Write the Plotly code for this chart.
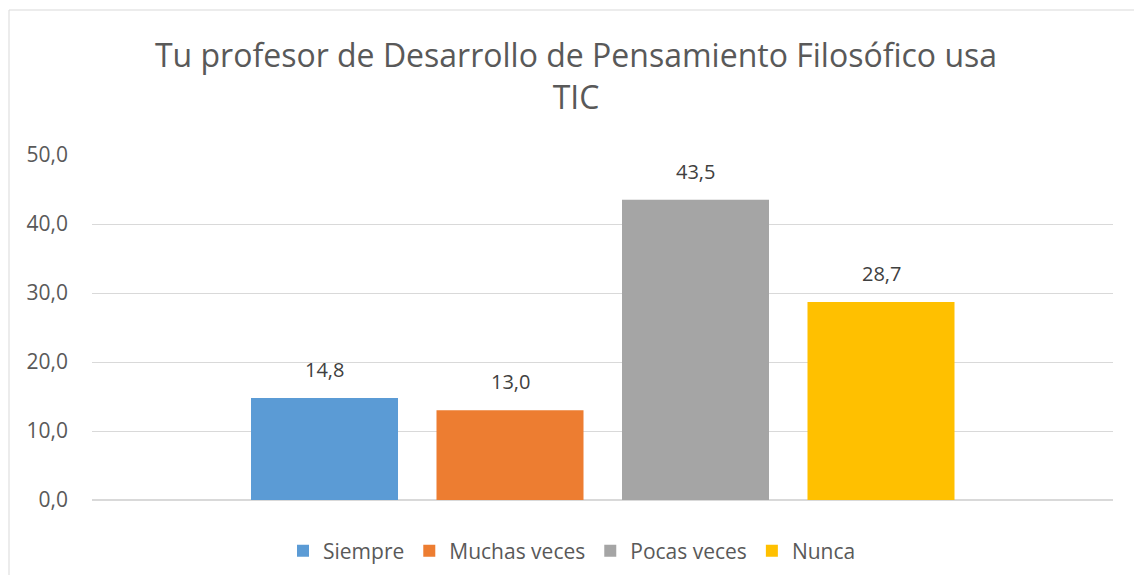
import plotly.graph_objects as go

categories = ["Siempre", "Muchas veces", "Pocas veces", "Nunca"]
values = [14.8, 13.0, 43.5, 28.7]
colors = ["#5B9BD5", "#ED7D31", "#A5A5A5", "#FFC000"]
y_ticks = [0, 10, 20, 30, 40, 50]
title = "Tu profesor de Desarrollo de Pensamiento Filosófico usa<br>TIC"

FONT = "Open Sans"
fig = go.Figure()
for name, v, c in zip(categories, values, colors):
    fig.add_trace(go.Bar(
        x=[name], y=[v], name=name, width=0.7925,
        marker=dict(color=c, line=dict(width=0)),
        hoverinfo="skip",
    ))
    fig.add_annotation(
        x=name, y=v, text=f"{v:.1f}".replace(".", ","), showarrow=False,
        yanchor="bottom", yshift=13,
        font=dict(family=FONT, size=20, color="#404040"),
    )

# page has an 8px body margin; figure is offset accordingly
W, H = 1126, 567
l, r, t, b = 84, 21, 147, 75
pw, ph = W - l - r, H - t - b

fig.update_layout(
    width=W, height=H,
    margin=dict(l=l, r=r, t=t, b=b, autoexpand=False),
    paper_bgcolor="white", plot_bgcolor="white",
    barmode="overlay",
    separators=",.",
    title=dict(text=title, x=568 / W, xanchor="center", xref="container",
               y=1 - 59 / H, yanchor="top", yref="container",
               font=dict(family=FONT, size=32, color="#595959")),
    xaxis=dict(showticklabels=False, showgrid=False, zeroline=False,
               showline=False, ticks="", range=[-1.2534, 4.2507],
               type="category"),
    yaxis=dict(range=[0, 50], tickvals=y_ticks, tickformat=".1f",
               showgrid=True, gridcolor="#D9D9D9", gridwidth=1,
               zeroline=True, zerolinecolor="#D9D9D9", showline=False,
               ticks="", ticklabelstandoff=23,
               tickfont=dict(family=FONT, size=21, color="#595959")),
    legend=dict(orientation="h", x=(275 - l) / pw, xanchor="left",
                y=(H - 543) / H, yanchor="middle", yref="container",
                font=dict(family=FONT, size=21, color="#595959"),
                itemwidth=30, traceorder="normal"),
    showlegend=True,
)

fig.add_shape(type="rect", xref="paper", yref="paper",
              x0=(1 - l) / pw, x1=(1140 - l) / pw,
              y0=(H - b - 590) / ph, y1=(H - b - 2) / ph,
              line=dict(color="#D9D9D9", width=1), layer="below")

fig.write_html("out.html")
